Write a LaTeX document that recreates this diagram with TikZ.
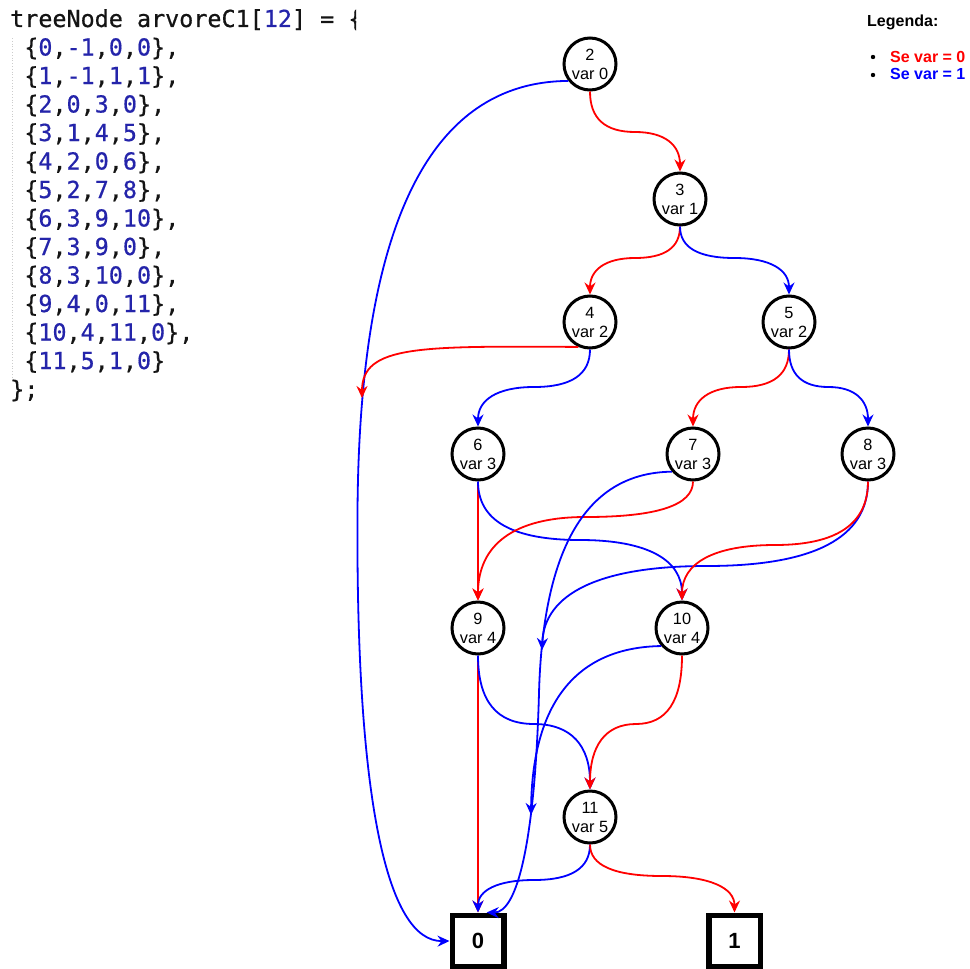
\documentclass[tikz,border=0pt]{standalone}
\usepackage{fontspec}
\setmainfont{Liberation Sans}
\newfontfamily\codefont[FakeBold=0.6]{DejaVu Sans Mono}
\usetikzlibrary{arrows.meta}
\definecolor{numblue}{RGB}{36,36,170}
\definecolor{codeblack}{RGB}{20,20,20}
\newcommand\nb[1]{\textcolor{numblue}{#1}}
\begin{document}
\begin{tikzpicture}[x=1pt,y=-1pt,
  vnode/.style={circle, draw, line width=3pt, minimum size=52pt, inner sep=0pt, fill=white, align=center, font=\fontsize{16.3}{19}\selectfont},
  tbox/.style={rectangle, draw, line width=5.5pt, minimum size=51.5pt, inner sep=0pt, fill=white, font=\fontsize{22}{26}\selectfont\bfseries},
  e0/.style={draw=red, line width=1.8pt, -{Stealth[length=12pt,width=11pt,inset=4pt]}},
  e1/.style={draw=blue, line width=1.8pt, -{Stealth[length=12pt,width=11pt,inset=4pt]}},
  code/.style={anchor=base west, inner sep=0pt, text=codeblack, font=\codefont\fontsize{23.4}{28}\selectfont},
  leg/.style={anchor=base west, inner sep=0pt, font=\fontsize{16}{19}\selectfont\bfseries}]
\useasboundingbox (0,0) rectangle (969,969);

% code listing
\begin{scope}
\clip (0,0) rectangle (356,420);
\draw[gray!40, dotted, line width=0.8pt] (12.5,38) -- (12.5,380);
\node[code] (c0) at (10,27) {treeNode arvoreC1[\nb{12}] = \{};
\node[code] (c1) at (24.1,55.5) {\{\nb{0},\nb{-1},\nb{0},\nb{0}\},};
\node[code] (c2) at (24.1,84) {\{\nb{1},\nb{-1},\nb{1},\nb{1}\},};
\node[code] (c3) at (24.1,112.5) {\{\nb{2},\nb{0},\nb{3},\nb{0}\},};
\node[code] (c4) at (24.1,141) {\{\nb{3},\nb{1},\nb{4},\nb{5}\},};
\node[code] (c5) at (24.1,169.5) {\{\nb{4},\nb{2},\nb{0},\nb{6}\},};
\node[code] (c6) at (24.1,198) {\{\nb{5},\nb{2},\nb{7},\nb{8}\},};
\node[code] (c7) at (24.1,226.5) {\{\nb{6},\nb{3},\nb{9},\nb{10}\},};
\node[code] (c8) at (24.1,255) {\{\nb{7},\nb{3},\nb{9},\nb{0}\},};
\node[code] (c9) at (24.1,283.5) {\{\nb{8},\nb{3},\nb{10},\nb{0}\},};
\node[code] (c10) at (24.1,312) {\{\nb{9},\nb{4},\nb{0},\nb{11}\},};
\node[code] (c11) at (24.1,340.5) {\{\nb{10},\nb{4},\nb{11},\nb{0}\},};
\node[code] (c12) at (24.1,369) {\{\nb{11},\nb{5},\nb{1},\nb{0}\}};
\node[code] (c13) at (10,397.5) {\};};
\end{scope}

% legend
\node[leg] (legt) at (867,27) {Legenda:};
\fill (873,57) circle (2.2);
\fill (873,75) circle (2.2);
\node[leg, text=red] (l0) at (890,62) {Se var = 0};
\node[leg, text=blue] (l1) at (890,79) {Se var = 1};

% nodes
\node[vnode] (n2) at (590,64) {2\\var 0};
\node[vnode] (n3) at (680,199) {3\\var 1};
\node[vnode] (n4) at (590,322) {4\\var 2};
\node[vnode] (n5) at (789,322) {5\\var 2};
\node[vnode] (n6) at (478,454) {6\\var 3};
\node[vnode] (n7) at (693,454) {7\\var 3};
\node[vnode] (n8) at (868,454) {8\\var 3};
\node[vnode] (n9) at (478,628) {9\\var 4};
\node[vnode] (n10) at (682,628) {10\\var 4};
\node[vnode] (n11) at (590,817) {11\\var 5};
\node[tbox] (box0) at (478,941) {0};
\node[tbox] (box1) at (734.5,941) {1};

\coordinate (j40) at (362,398);
\coordinate (j80) at (542,650);
\coordinate (j100) at (531,815);

% edges
\draw[e0] (n2.south) .. controls (590,118.5) and (605,132) .. (635,132) .. controls (665,132) and (680,145.2) .. (n3.north);
\draw[e1] (n2.218) .. controls (429.3,81.7) and (359.2,225.3) .. (357.5,512) .. controls (355.8,798.7) and (386.7,941.7) .. (box0.west);
\draw[e0] (n3.south) .. controls (680,247.5) and (665,258) .. (635,258) .. controls (605,258) and (590,270.2) .. (n4.north);
\draw[e1] (n3.south) .. controls (680,247.5) and (698.2,258) .. (734.5,258) .. controls (770.8,258) and (789,270.2) .. (n5.north);
\draw[e1] (n4.south) .. controls (590,374.5) and (571.3,387) .. (534,387) .. controls (496.7,387) and (478,400.2) .. (n6.north);
\draw[e0] (n4.245) .. controls (420,346) and (362,345) .. (j40);
\draw[e0] (n5.south) .. controls (789,374.5) and (773,387) .. (741,387) .. controls (709,387) and (693,400.2) .. (n7.north);
\draw[e1] (n5.south) .. controls (789,374.5) and (802.2,387) .. (828.5,387) .. controls (854.8,387) and (868,400.2) .. (n8.north);
\draw[e0] (n6.south) -- (n9.north);
\draw[e1] (n6.south) .. controls (478,520.5) and (512,540) .. (580,540) .. controls (648,540) and (682,560.2) .. (n10.north);
\draw[e0] (n7.south) .. controls (693,505.2) and (657.2,517) .. (585.5,517) .. controls (513.8,517) and (478,544.8) .. (n9.north);
\draw[e1] (n7.220) .. controls (587.3,472.6) and (543,546.3) .. (539,693) .. controls (535,839.7) and (517.7,912.8) .. (box0.73);
\draw[e1] (n8.south) .. controls (868,537.8) and (814.2,566) .. (706.5,566) .. controls (598.8,566) and (544,594) .. (j80);
\draw[e0] (n8.south) .. controls (868,523.8) and (837,545) .. (775,545) .. controls (713,545) and (682,563.5) .. (n10.north);
\draw[e0] (n9.south) -- (box0.north);
\draw[e1] (n9.south) .. controls (478,701.2) and (496.7,724) .. (534,724) .. controls (571.3,724) and (590,745.8) .. (n11.north);
\draw[e0] (n10.south) .. controls (682,701.2) and (666.7,724) .. (636,724) .. controls (605.3,724) and (590,745.8) .. (n11.north);
\draw[e1] (n10.221) .. controls (575.7,647.3) and (532.3,703.7) .. (j100);
\draw[e1] (n11.south) .. controls (590,868.2) and (571.3,880) .. (534,880) .. controls (496.7,880) and (478,890.8) .. (box0.north);
\draw[e0] (n11.south) .. controls (590,865.5) and (614.1,876) .. (662.25,876) .. controls (710.4,876) and (734.5,888.2) .. (box1.north);
\end{tikzpicture}
\end{document}
